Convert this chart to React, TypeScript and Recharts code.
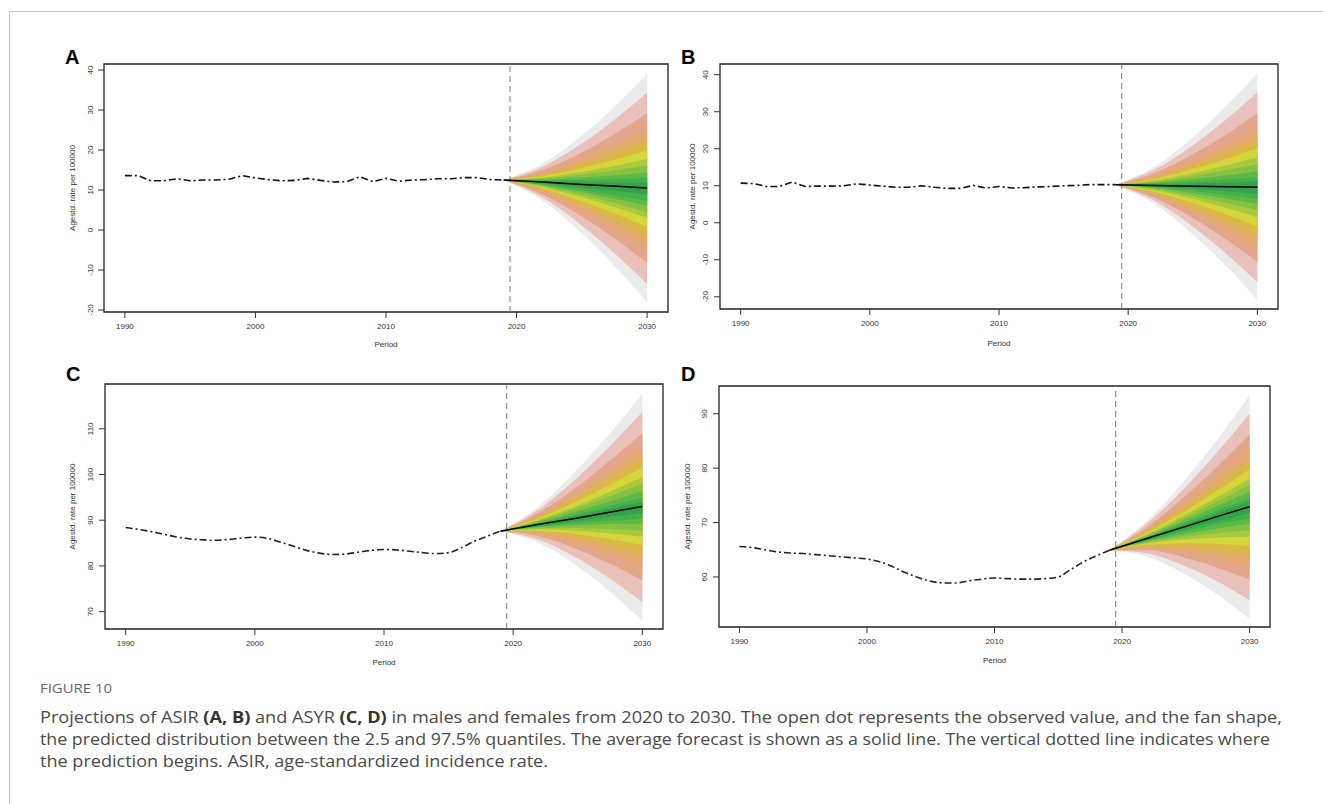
import React from 'react'
import {
  ComposedChart,
  Area,
  Line,
  XAxis,
  YAxis,
  ReferenceLine,
  ReferenceArea,
} from 'recharts'

const OBS_YEARS = [
  1990, 1991, 1992, 1993, 1994, 1995, 1996, 1997, 1998, 1999,
  2000, 2001, 2002, 2003, 2004, 2005, 2006, 2007, 2008, 2009,
  2010, 2011, 2012, 2013, 2014, 2015, 2016, 2017, 2018, 2019,
]
const FAN_YEARS = [2019, 2022, 2025, 2028, 2030]
const X_TICKS = [1990, 2000, 2010, 2020, 2030]

// observed rates 1990-2019
const A_OBSERVED = [
  13.6, 13.6, 12.3, 12.3, 12.8, 12.3, 12.5, 12.5, 12.7, 13.6,
  13.0, 12.6, 12.3, 12.4, 12.9, 12.4, 12.0, 12.1, 13.3, 12.1,
  12.9, 12.2, 12.5, 12.6, 12.8, 12.8, 13.1, 13.1, 12.6, 12.5,
]
const B_OBSERVED = [
  10.7, 10.6, 9.8, 9.8, 11.0, 9.8, 9.9, 9.9, 10.0, 10.5,
  10.2, 9.9, 9.6, 9.6, 10.0, 9.6, 9.3, 9.3, 10.1, 9.4,
  9.8, 9.4, 9.5, 9.7, 9.8, 10.0, 10.1, 10.3, 10.3, 10.3,
]
const C_OBSERVED = [
  88.4, 88.0, 87.5, 86.9, 86.3, 85.9, 85.7, 85.6, 85.8, 86.1,
  86.3, 86.0, 85.2, 84.3, 83.4, 82.8, 82.5, 82.6, 83.0, 83.4,
  83.6, 83.5, 83.2, 82.9, 82.7, 82.9, 84.0, 85.4, 86.5, 87.6,
]
const D_OBSERVED = [
  65.6, 65.4, 65.0, 64.6, 64.4, 64.3, 64.1, 63.9, 63.7, 63.5,
  63.3, 62.8, 61.9, 60.8, 59.9, 59.2, 58.9, 58.9, 59.3, 59.6,
  59.8, 59.7, 59.6, 59.6, 59.7, 60.0, 61.4, 62.8, 63.9, 64.9,
]

// mean forecast at FAN_YEARS
const A_MEAN = [12.5, 12.0, 11.4, 10.9, 10.5]
const B_MEAN = [10.3, 10.1, 9.9, 9.7, 9.6]
const C_MEAN = [87.6, 89.1, 90.5, 92.0, 93.0]
const D_MEAN = [64.9, 67.1, 69.3, 71.5, 72.9]

// quantile boundaries at FAN_YEARS, lowest to highest
const A_FAN = [
  [12.5, 7.3, -0.8, -10.7, -18.1],
  [12.5, 8.1, 1.1, -7.3, -13.5],
  [12.5, 8.9, 3.4, -3.3, -8.3],
  [12.5, 9.5, 4.9, -0.7, -4.8],
  [12.5, 10.0, 6.1, 1.6, -1.8],
  [12.5, 10.4, 7.2, 3.5, 0.7],
  [12.5, 10.7, 8.2, 5.2, 3.0],
  [12.5, 11.0, 8.8, 6.3, 4.4],
  [12.5, 11.2, 9.5, 7.5, 6.1],
  [12.5, 11.4, 10.0, 8.4, 7.3],
  [12.5, 11.7, 10.7, 9.6, 8.8],
  [12.5, 12.2, 12.0, 11.9, 11.9],
  [12.5, 12.4, 12.5, 12.8, 13.0],
  [12.5, 12.6, 13.1, 13.8, 14.4],
  [12.5, 12.9, 13.8, 15.1, 16.1],
  [12.5, 13.1, 14.5, 16.3, 17.8],
  [12.5, 13.5, 15.5, 18.0, 20.0],
  [12.5, 13.9, 16.5, 19.9, 22.5],
  [12.5, 14.3, 17.7, 22.0, 25.3],
  [12.5, 15.0, 19.4, 25.0, 29.2],
  [12.5, 15.8, 21.6, 28.9, 34.4],
  [12.5, 16.6, 23.6, 32.4, 39.0],
]
const B_FAN = [
  [10.3, 5.2, -3.1, -13.2, -20.8],
  [10.3, 6.0, -1.0, -9.6, -16.0],
  [10.3, 6.8, 1.3, -5.5, -10.6],
  [10.3, 7.5, 2.9, -2.7, -6.8],
  [10.3, 8.0, 4.2, -0.3, -3.7],
  [10.3, 8.4, 5.4, 1.7, -1.0],
  [10.3, 8.8, 6.5, 3.6, 1.5],
  [10.3, 9.1, 7.2, 5.0, 3.3],
  [10.3, 9.4, 8.0, 6.3, 5.1],
  [10.3, 9.6, 8.6, 7.4, 6.5],
  [10.3, 9.8, 9.2, 8.4, 7.8],
  [10.3, 10.4, 10.6, 10.9, 11.2],
  [10.3, 10.6, 11.1, 11.8, 12.3],
  [10.3, 10.8, 11.8, 13.0, 13.9],
  [10.3, 11.1, 12.6, 14.5, 15.9],
  [10.3, 11.4, 13.4, 15.9, 17.7],
  [10.3, 11.8, 14.5, 17.7, 20.2],
  [10.3, 12.2, 15.5, 19.6, 22.6],
  [10.3, 12.7, 16.7, 21.7, 25.5],
  [10.3, 13.4, 18.5, 24.8, 29.6],
  [10.3, 14.3, 20.9, 29.1, 35.3],
  [10.3, 15.1, 23.1, 33.0, 40.4],
]
const C_FAN = [
  [87.6, 85.0, 79.9, 73.1, 68.0],
  [87.6, 85.7, 81.6, 76.2, 72.1],
  [87.6, 86.5, 83.6, 79.8, 76.8],
  [87.6, 87.0, 84.9, 82.1, 79.9],
  [87.6, 87.3, 86.0, 83.9, 82.3],
  [87.6, 87.7, 86.9, 85.6, 84.5],
  [87.6, 88.0, 87.7, 87.0, 86.4],
  [87.6, 88.2, 88.3, 88.0, 87.7],
  [87.6, 88.5, 88.9, 89.2, 89.2],
  [87.6, 88.6, 89.4, 90.0, 90.3],
  [87.6, 88.8, 89.9, 90.9, 91.5],
  [87.6, 89.2, 91.0, 92.8, 94.0],
  [87.6, 89.4, 91.4, 93.5, 94.9],
  [87.6, 89.6, 92.0, 94.6, 96.4],
  [87.6, 89.9, 92.7, 95.8, 98.0],
  [87.6, 90.1, 93.3, 96.9, 99.4],
  [87.6, 90.5, 94.2, 98.5, 101.6],
  [87.6, 90.8, 95.1, 100.1, 103.7],
  [87.6, 91.2, 96.1, 101.8, 106.0],
  [87.6, 91.7, 97.4, 104.2, 109.1],
  [87.6, 92.4, 99.4, 107.7, 113.7],
  [87.6, 93.1, 101.2, 110.7, 117.8],
]
const D_FAN = [
  [64.9, 63.7, 60.4, 55.9, 52.3],
  [64.9, 64.3, 61.9, 58.5, 55.7],
  [64.9, 64.9, 63.5, 61.3, 59.5],
  [64.9, 65.3, 64.6, 63.1, 61.9],
  [64.9, 65.6, 65.4, 64.7, 63.9],
  [64.9, 65.9, 66.2, 66.0, 65.7],
  [64.9, 66.2, 66.9, 67.3, 67.4],
  [64.9, 66.4, 67.4, 68.2, 68.6],
  [64.9, 66.6, 67.9, 69.1, 69.8],
  [64.9, 66.7, 68.4, 69.9, 70.8],
  [64.9, 66.9, 68.8, 70.5, 71.7],
  [64.9, 67.2, 69.7, 72.2, 73.9],
  [64.9, 67.4, 70.0, 72.7, 74.6],
  [64.9, 67.5, 70.5, 73.6, 75.7],
  [64.9, 67.7, 71.0, 74.5, 76.9],
  [64.9, 67.9, 71.5, 75.4, 78.1],
  [64.9, 68.2, 72.2, 76.7, 79.8],
  [64.9, 68.5, 72.9, 77.9, 81.4],
  [64.9, 68.8, 73.8, 79.5, 83.6],
  [64.9, 69.2, 75.0, 81.5, 86.2],
  [64.9, 69.9, 76.6, 84.4, 90.0],
  [64.9, 70.4, 78.0, 86.9, 93.4],
]

// outermost band first
const FAN_COLORS = [
  '#ebebeb', '#eac1ba', '#e4a68a', '#e3aa6e', '#dbb747', '#d5d63b',
  '#a9ca3f', '#85c243', '#5cb947', '#42b14a', '#34a24a',
]

const AXIS_FONT = '"Liberation Sans", Arial, Helvetica, sans-serif'

interface PanelConfig {
  letter: string
  box: [number, number, number, number] // left, top, width, height
  yDomain: [number, number]
  yTicks: number[]
  observed: number[]
  mean: number[]
  fan: number[][]
  curve: 'linear' | 'monotone'
  obsColor: string
  titleOffset: number
  periodOffset: number
}

const PANELS: PanelConfig[] = [
  { letter: 'A', box: [104, 64, 564, 248], yDomain: [-20.5, 41.5], yTicks: [-20, -10, 0, 10, 20, 30, 40], observed: A_OBSERVED, mean: A_MEAN, fan: A_FAN, curve: 'linear', obsColor: '#111', titleOffset: 13, periodOffset: 5 },
  { letter: 'B', box: [720, 64, 558, 245], yDomain: [-23.3, 42.9], yTicks: [-20, -10, 0, 10, 20, 30, 40], observed: B_OBSERVED, mean: B_MEAN, fan: B_FAN, curve: 'linear', obsColor: '#111', titleOffset: 17, periodOffset: 3 },
  { letter: 'C', box: [105, 384, 558, 245], yDomain: [66.2, 119.8], yTicks: [70, 80, 90, 100, 110], observed: C_OBSERVED, mean: C_MEAN, fan: C_FAN, curve: 'monotone', obsColor: '#24240f', titleOffset: 12, periodOffset: 4 },
  { letter: 'D', box: [719, 386, 551, 241], yDomain: [50.8, 95.1], yTicks: [60, 70, 80, 90], observed: D_OBSERVED, mean: D_MEAN, fan: D_FAN, curve: 'monotone', obsColor: '#24240f', titleOffset: 13, periodOffset: 4 },
]

const Y_AXIS_W = 45
const X_AXIS_H = 40
const PAD = 5

function buildRows(observed: number[], mean: number[], fan: number[][]) {
  const rows: any[] = OBS_YEARS.map((year, i) => ({ year, obs: observed[i] }))
  FAN_YEARS.forEach((year, j) => {
    const q = fan.map((b) => b[j])
    const found = rows.find((r) => r.year === year)
    if (found) Object.assign(found, { mean: mean[j], q })
    else rows.push({ year, mean: mean[j], q })
  })
  return rows
}

const RotatedTick = (props: any) => {
  const { x, y, payload } = props
  const cx = x - 6
  return (
    <text
      x={cx}
      y={y}
      transform={`rotate(-90, ${cx}, ${y})`}
      textAnchor="middle"
      dominantBaseline="central"
      fontSize={8}
      fill="#333"
      fontFamily={AXIS_FONT}
    >
      {payload.value}
    </text>
  )
}

function FanPanel({ p }: { p: PanelConfig }) {
  const [left, top, w, h] = p.box
  const rows = buildRows(p.observed, p.mean, p.fan)
  const n = p.fan.length
  const chartW = w + Y_AXIS_W + PAD
  const chartH = h + PAD + X_AXIS_H

  return (
    <div style={{ position: 'absolute', left: left - Y_AXIS_W, top: top - PAD, width: chartW, height: chartH }}>
      <ComposedChart width={chartW} height={chartH} data={rows} margin={{ top: PAD, right: PAD, bottom: 0, left: 0 }}>
        <XAxis
          type="number"
          dataKey="year"
          domain={[1988.4, 2031.6]}
          allowDataOverflow
          ticks={X_TICKS}
          interval={0}
          height={X_AXIS_H}
          axisLine={false}
          tickSize={6}
          tickMargin={5}
          tickLine={{ stroke: '#333' }}
          tick={{ fontSize: 8, fill: '#333', fontFamily: AXIS_FONT }}
          label={{ value: 'Period', position: 'insideBottom', offset: p.periodOffset, style: { fontSize: 8, fill: '#333', fontFamily: AXIS_FONT } }}
        />
        <YAxis
          type="number"
          domain={p.yDomain}
          allowDataOverflow
          ticks={p.yTicks}
          interval={0}
          width={Y_AXIS_W}
          axisLine={false}
          tickSize={6}
          tickLine={{ stroke: '#333' }}
          tick={<RotatedTick />}
          label={{ value: 'Agestd. rate per 100000', angle: -90, position: 'insideLeft', offset: p.titleOffset, style: { textAnchor: 'middle', fontSize: 8, fill: '#333', fontFamily: AXIS_FONT } }}
        />
        {FAN_COLORS.map((color, k) => (
          <Area
            key={`band-${k}`}
            type="monotone"
            dataKey={(d: any) => (d.q ? [d.q[k], d.q[n - 1 - k]] : null)}
            fill={color}
            fillOpacity={1}
            stroke="none"
            dot={false}
            activeDot={false}
            isAnimationActive={false}
          />
        ))}
        <ReferenceLine x={2019.5} stroke="#7a7a7a" strokeDasharray="6 4" strokeWidth={1} />
        <Line
          type={p.curve}
          dataKey="obs"
          stroke={p.obsColor}
          strokeWidth={1.6}
          strokeDasharray="7 3 2 3"
          dot={false}
          activeDot={false}
          isAnimationActive={false}
        />
        <Line
          type="linear"
          dataKey="mean"
          stroke="#000"
          strokeWidth={1.5}
          dot={false}
          activeDot={false}
          isAnimationActive={false}
        />
        <ReferenceArea
          x1={1988.4}
          x2={2031.6}
          y1={p.yDomain[0]}
          y2={p.yDomain[1]}
          fill="none"
          fillOpacity={0}
          stroke="#222"
          strokeWidth={1.3}
        />
      </ComposedChart>
    </div>
  )
}

const LETTER_POS: Record<string, [number, number]> = {
  A: [65, 46.6],
  B: [681, 46.6],
  C: [66, 363.6],
  D: [681, 363.6],
}

export default function App() {
  return (
    <div style={{ position: 'absolute', left: 0, top: 0, width: 1323, height: 804, background: '#fff', overflow: 'hidden' }}>
      <div style={{ position: 'absolute', left: 9, top: 11, width: 1400, height: 900, borderTop: '1.5px solid #c6c6c6', borderLeft: '1.5px solid #c6c6c6' }} />
      {PANELS.map((p) => (
        <React.Fragment key={p.letter}>
          <div
            style={{
              position: 'absolute',
              left: LETTER_POS[p.letter][0],
              top: LETTER_POS[p.letter][1],
              fontFamily: AXIS_FONT,
              fontWeight: 'bold',
              fontSize: 20,
              lineHeight: '20px',
              color: '#000',
            }}
          >
            {p.letter}
          </div>
          <FanPanel p={p} />
        </React.Fragment>
      ))}
      <svg style={{ position: 'absolute', left: 0, top: 670 }} width={1323} height={134}>
        <text x={40} y={23} fontFamily='"Open Sans", "Noto Sans", sans-serif' fontSize={12.5} fill="#666" textLength={72} lengthAdjust="spacingAndGlyphs">
          FIGURE 10
        </text>
        <g fontFamily='"Open Sans", "Noto Sans", sans-serif' fontSize={16} fill="#4a4a4a">
          <text x={40} y={53} textLength={1242} lengthAdjust="spacingAndGlyphs">
            Projections of ASIR <tspan fontWeight="bold" fill="#333">(A, B)</tspan> and ASYR <tspan fontWeight="bold" fill="#333">(C, D)</tspan> in males and females from 2020 to 2030. The open dot represents the observed value, and the fan shape,
          </text>
          <text x={40} y={75} textLength={1230} lengthAdjust="spacingAndGlyphs">
            the predicted distribution between the 2.5 and 97.5% quantiles. The average forecast is shown as a solid line. The vertical dotted line indicates where
          </text>
          <text x={40} y={97} textLength={508} lengthAdjust="spacingAndGlyphs">
            the prediction begins. ASIR, age-standardized incidence rate.
          </text>
        </g>
      </svg>
    </div>
  )
}
